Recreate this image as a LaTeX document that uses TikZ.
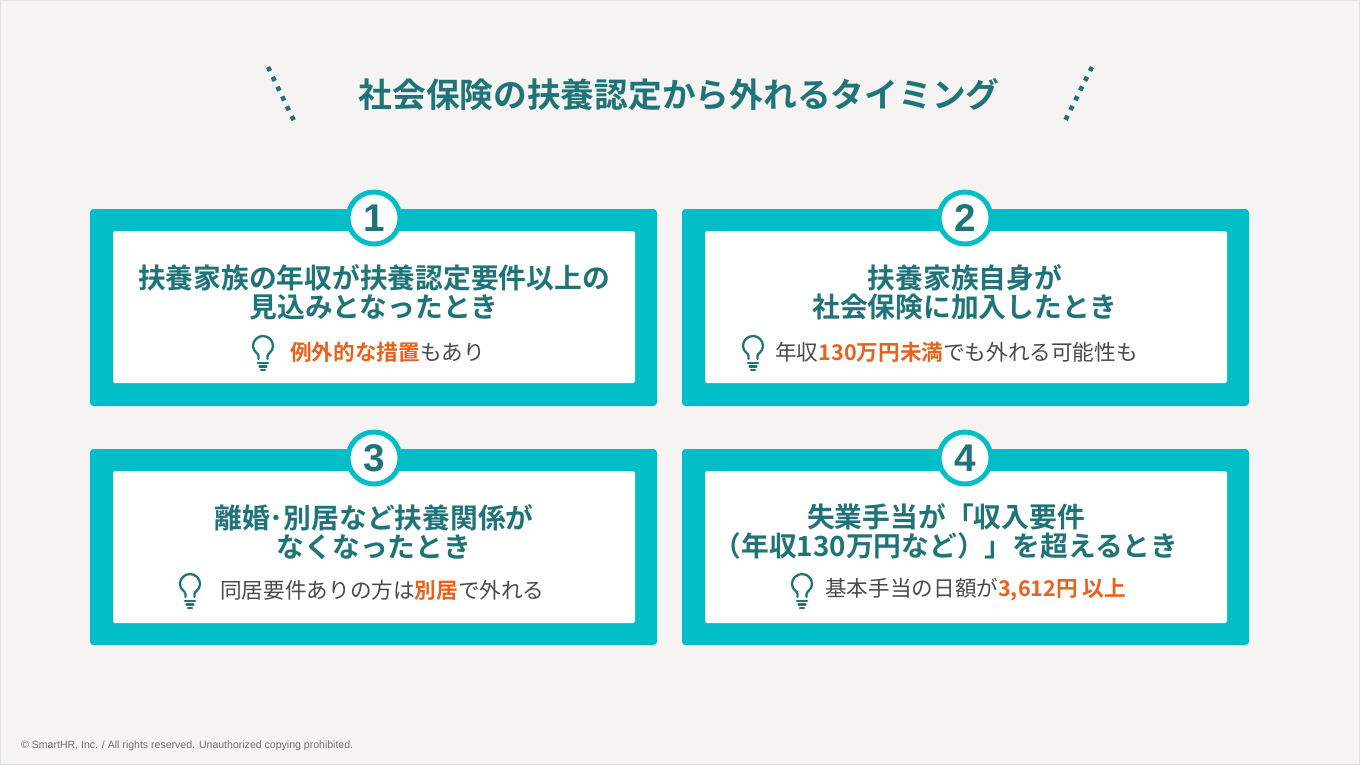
\documentclass[tikz,border=0pt]{standalone}
\usepackage{fontspec}
\setmainfont{Noto Sans CJK JP}[BoldFont={Noto Sans CJK JP Bold}]
\setsansfont{Liberation Sans}
\usetikzlibrary{positioning,calc}
\definecolor{bgcol}{HTML}{F5F4F2}
\definecolor{teal}{HTML}{00BEC6}
\definecolor{deepteal}{HTML}{1F7479}
\definecolor{hintgray}{HTML}{4A4A4A}
\definecolor{accent}{HTML}{E8621C}
\tikzset{
	panel/.style={fill=teal, rounded corners=2pt},
	sheet/.style={fill=white, rounded corners=1pt},
	badge/.style={circle, draw=teal, line width=2.8pt, fill=white, minimum size=52*0.02cm, inner sep=0pt,
		text=deepteal, font=\sffamily\bfseries\fontsize{22}{22}\selectfont},
	heading/.style={align=center, text=deepteal, font=\bfseries\fontsize{15.8}{16.6}\selectfont},
	hint/.style={anchor=west, text=hintgray, inner sep=0pt, font=\fontsize{12.3}{14}\selectfont},
	bulb/.pic={
		\draw[deepteal, line width=1.3pt, line cap=round]
			(-4.5,4) -- (-4.5,1) .. controls (-4.5,-2) and (-10,-3) .. (-10,-9)
			arc[start angle=180, end angle=360, radius=10]
			.. controls (10,-3) and (4.5,-2) .. (4.5,1) -- (4.5,4);
		\draw[deepteal, line width=1.3pt, line cap=round]
			(-5,8) -- (5,8) (-3.5,11.5) -- (3.5,11.5) (-2,15) -- (2,15);
	}
}
\newcommand{\hl}[1]{\textcolor{accent}{\bfseries #1}}

\begin{document}
\begin{tikzpicture}[x=0.02cm, y=-0.02cm]
	\fill[bgcol] (0,0) rectangle (1360,765);
	\draw[black!12] (0.5,0.5) rectangle (1359.5,764.5);
	\useasboundingbox (0,0) rectangle (1360,765);

	% title
	\node[text=deepteal, font=\bfseries\fontsize{19.2}{20}\selectfont] (title) at (679,95) {社会保険の扶養認定から外れるタイミング};
	\coordinate (ltop) at (268,67);  \coordinate (lbot) at (295,123);
	\coordinate (rtop) at (1092,67); \coordinate (rbot) at (1064,123);
	\draw[deepteal, line width=2.6pt, dash pattern=on 2.6pt off 3.6pt] (ltop) -- (lbot);
	\draw[deepteal, line width=2.6pt, dash pattern=on 2.6pt off 3.6pt] (rtop) -- (rbot);

	% panels
	\fill[panel] (90,209) rectangle (657,406);
	\fill[sheet] (113,231) rectangle (635,383);
	\fill[panel] (682,209) rectangle (1249,406);
	\fill[sheet] (705,231) rectangle (1227,383);
	\fill[panel] (90,449) rectangle (657,645);
	\fill[sheet] (113,471) rectangle (635,623);
	\fill[panel] (682,449) rectangle (1249,645);
	\fill[sheet] (705,471) rectangle (1227,623);

	\node[badge] (n1) at (374,218) {1};
	\node[badge] (n2) at (965,218) {2};
	\node[badge] (n3) at (374,458) {3};
	\node[badge] (n4) at (965,458) {4};

	% panel 1
	\node[heading] (h1) at (374,292) {扶養家族の年収が扶養認定要件以上の\\見込みとなったとき};
	\pic at (263,355) {bulb};
	\node[hint] (t1) at (290,352) {\hl{例外的な措置}もあり};

	% panel 2
	\node[heading] (h2) at (965,292) {扶養家族自身が\\社会保険に加入したとき};
	\pic at (753,355) {bulb};
	\node[hint] (t2) at (775,352) {年収\hl{130万円未満}でも外れる可能性も};

	% panel 3
	\node[heading] (h3) at (374,532) {離婚･別居など扶養関係が\\なくなったとき};
	\pic at (190,593) {bulb};
	\node[hint] (t3) at (220,590) {同居要件ありの方は\hl{別居}で外れる};

	% panel 4
	\node[heading] (h4) at (946,531) {失業手当が「収入要件\\（年収130万円など）」を超えるとき};
	\pic at (802,593) {bulb};
	\node[hint] (t4) at (825,590) {基本手当の日額が\hl{3,612円 以上}};

	% footer
	\node[anchor=west, text=hintgray!80, font=\sffamily\fontsize{6}{6}\selectfont] (foot) at (15,746)
		{© SmartHR, Inc. / All rights reserved. Unauthorized copying prohibited.};
\end{tikzpicture}
\end{document}
